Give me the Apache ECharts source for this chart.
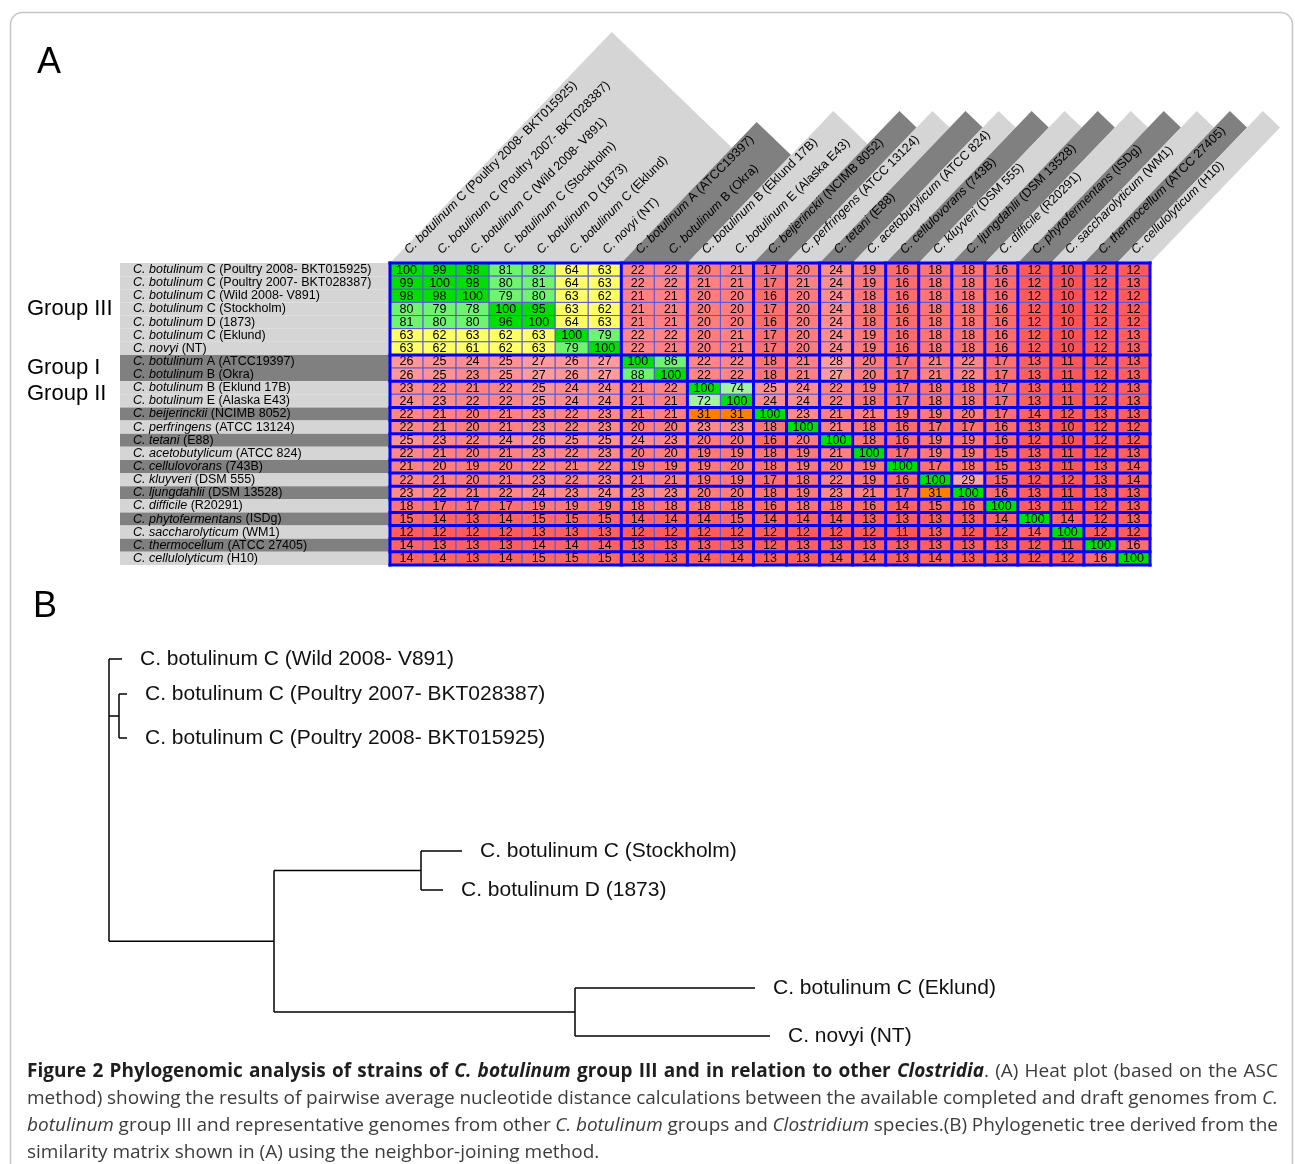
<!DOCTYPE html>
<html><head><meta charset="utf-8">
<script src="https://cdn.jsdelivr.net/npm/echarts@6/dist/echarts.min.js"></script>
<style>html,body{margin:0;padding:0;background:#fff}#c{width:1295px;height:1164px}</style>
</head><body><div id="c"></div>
<script>
// ---------- DATA ----------
const rowSpecies = ['C. botulinum','C. botulinum','C. botulinum','C. botulinum','C. botulinum','C. botulinum','C. novyi',
  'C. botulinum','C. botulinum','C. botulinum','C. botulinum','C. beijerinckii','C. perfringens','C. tetani',
  'C. acetobutylicum','C. cellulovorans','C. kluyveri','C. ljungdahlii','C. difficile','C. phytofermentans',
  'C. saccharolyticum','C. thermocellum','C. cellulolyticum'];
const rowStrains = ['C (Poultry 2008- BKT015925)','C (Poultry 2007- BKT028387)','C (Wild 2008- V891)','C (Stockholm)',
  'D (1873)','C (Eklund)','(NT)','A (ATCC19397)','B (Okra)','B (Eklund 17B)','E (Alaska E43)','(NCIMB 8052)',
  '(ATCC 13124)','(E88)','(ATCC 824)','(743B)','(DSM 555)','(DSM 13528)','(R20291)','(ISDg)','(WM1)',
  '(ATCC 27405)','(H10)'];
const categories = rowSpecies.map((s, i) => s + ' ' + rowStrains[i]);

const similarity = [
  [100,99,98,81,82,64,63,22,22,20,21,17,20,24,19,16,18,18,16,12,10,12,12],
  [99,100,98,80,81,64,63,22,22,21,21,17,21,24,19,16,18,18,16,12,10,12,13],
  [98,98,100,79,80,63,62,21,21,20,20,16,20,24,18,16,18,18,16,12,10,12,12],
  [80,79,78,100,95,63,62,21,21,20,20,17,20,24,18,16,18,18,16,12,10,12,12],
  [81,80,80,96,100,64,63,21,21,20,20,16,20,24,18,16,18,18,16,12,10,12,12],
  [63,62,63,62,63,100,79,22,22,20,21,17,20,24,19,16,18,18,16,12,10,12,13],
  [63,62,61,62,63,79,100,22,21,20,21,17,20,24,19,16,18,18,16,12,10,12,13],
  [26,25,24,25,27,26,27,100,86,22,22,18,21,28,20,17,21,22,17,13,11,12,13],
  [26,25,23,25,27,26,27,88,100,22,22,18,21,27,20,17,21,22,17,13,11,12,13],
  [23,22,21,22,25,24,24,21,22,100,74,25,24,22,19,17,18,18,17,13,11,12,13],
  [24,23,22,22,25,24,24,21,21,72,100,24,24,22,18,17,18,18,17,13,11,12,13],
  [22,21,20,21,23,22,23,21,21,31,31,100,23,21,21,19,19,20,17,14,12,13,13],
  [22,21,20,21,23,22,23,20,20,23,23,18,100,21,18,16,17,17,16,13,10,12,12],
  [25,23,22,24,26,25,25,24,23,20,20,16,20,100,18,16,19,19,16,12,10,12,12],
  [22,21,20,21,23,22,23,20,20,19,19,18,19,21,100,17,19,19,15,13,11,12,13],
  [21,20,19,20,22,21,22,19,19,19,20,18,19,20,19,100,17,18,15,13,11,13,14],
  [22,21,20,21,23,22,23,21,21,19,19,17,18,22,19,16,100,29,15,12,12,13,14],
  [23,22,21,22,24,23,24,23,23,20,20,18,19,23,21,17,31,100,16,13,11,13,13],
  [18,17,17,17,19,19,19,18,18,18,18,16,18,18,16,14,15,16,100,13,11,12,13],
  [15,14,13,14,15,15,15,14,14,14,15,14,14,14,13,13,13,13,14,100,14,12,13],
  [12,12,12,12,13,13,13,12,12,12,12,12,12,12,12,11,13,12,12,14,100,12,12],
  [14,13,13,13,14,14,14,13,13,13,13,12,13,13,13,13,13,13,13,12,11,100,16],
  [14,14,13,14,15,15,15,13,13,14,14,13,13,14,14,13,14,13,13,12,12,16,100]
];

// block boundaries (groups / single strains)
const blockBounds = [0,7,9,11,12,13,14,15,16,17,18,19,20,21,22,23];
const groupLabels = ['Group III','Group I','Group II'];
const groupFirstRow = [0,7,9];
const groupLastRow = [6,8,10];

// phylogenetic tree (branch lengths, leaf positions)
const tree = {len: 0, children: [
  {name: 'C. botulinum C (Wild 2008- V891)', len: 1.3, pos: 1.9},
  {len: 1.0, children: [
    {name: 'C. botulinum C (Poultry 2007- BKT028387)', len: 0.8, pos: 5.4},
    {name: 'C. botulinum C (Poultry 2008- BKT015925)', len: 0.8, pos: 9.8}
  ]},
  {len: 16.5, children: [
    {len: 14.7, children: [
      {name: 'C. botulinum C (Stockholm)', len: 4.1, pos: 21.1},
      {name: 'C. botulinum D (1873)', len: 2.2, pos: 25.0}
    ]},
    {len: 30.1, children: [
      {name: 'C. botulinum C (Eklund)', len: 18.0, pos: 34.8},
      {name: 'C. novyi (NT)', len: 19.5, pos: 39.6}
    ]}
  ]}
]};

const captionLines = [
  [['Figure 2 Phylogenomic analysis of strains of ','b'],['C. botulinum','bi'],[' group III and in relation to other ','b'],['Clostridia','bi'],['. (A) Heat plot (based on the ASC','n']],
  [['method) showing the results of pairwise average nucleotide distance calculations between the available completed and draft genomes from ','n'],['C.','i']],
  [['botulinum','i'],[' group III and representative genomes from other ','n'],['C. botulinum','i'],[' groups and ','n'],['Clostridium','i'],[' species.(B) Phylogenetic tree derived from the','n']],
  [['similarity matrix shown in (A) using the neighbor-joining method.','n']]
];

// ---------- STYLE HELPERS ----------
const LIGHT = '#d5d5d5', DARK = '#808080';
const FONT = '"Liberation Sans", Arial, sans-serif';
function cellColor(v) {
  if (v >= 95) return '#00e000';
  if (v >= 75) return '#6ef46e';
  if (v >= 70) return '#a4f4a0';
  if (v >= 60) return '#ffff66';
  if (v >= 30) return '#ff8000';
  const g = Math.round(82 + (v - 10) * 4.3);
  return 'rgb(255,' + g + ',' + g + ')';
}
function blockOf(i) { for (let k = 0; k < blockBounds.length - 1; k++) if (i >= blockBounds[k] && i < blockBounds[k+1]) return k; return 0; }
function shade(k) { return k % 2 === 0 ? LIGHT : DARK; }
const headerHeight = k => (k === 0 ? 231 : (k === 1 ? 141 : 152));
const bandSlope = 0.96; // horizontal run per vertical rise of the header bands

// ---------- DERIVED DATA ----------
const cells = [];
similarity.forEach((row, y) => row.forEach((v, x) => cells.push([x, y, v])));
const blocks = [];
for (let k = 0; k < blockBounds.length - 1; k++) blocks.push([blockBounds[k], blockBounds[k+1] - 1, k]);

// tree layout
const segs = [], leaves = [], leafNames = [];
function layout(node, px) {
  const x = px + node.len;
  if (!node.children) { leaves.push([x, node.pos]); leafNames.push(node.name); node._y = node.pos; }
  else {
    const ys = node.children.map(ch => layout(ch, x));
    node._y = ys.reduce((a, b) => a + b, 0) / ys.length;
    segs.push([x, Math.min(...ys), x, Math.max(...ys)]);
  }
  if (node.len > 0) segs.push([px, node._y, x, node._y]);
  return node._y;
}
layout(tree, 0);

// ---------- CAPTION (justified words) ----------
const cvs = document.createElement('canvas').getContext('2d');
const capSize = 19, capFam = '"Open Sans", sans-serif';
function capFont(s) {
  return (s.indexOf('i') >= 0 ? 'italic ' : '') + (s.indexOf('b') >= 0 ? 'bold ' : '') + capSize + 'px ' + capFam;
}
function tokenize(segsIn) {
  const words = []; let cur = [];
  segsIn.forEach(([t, s]) => {
    t.split(' ').forEach((p, i) => {
      if (i > 0) { if (cur.length) words.push(cur); cur = []; }
      if (p) cur.push([p, s]);
    });
  });
  if (cur.length) words.push(cur);
  return words;
}
const captionEls = [];
const capLeft = 27, capRight = 1278, capY0 = 1072, capDy = 26.7;
captionLines.forEach((line, li) => {
  const words = tokenize(line);
  const widths = words.map(w => w.reduce((a, [t, s]) => { cvs.font = capFont(s); return a + cvs.measureText(t).width; }, 0));
  const total = widths.reduce((a, b) => a + b, 0);
  cvs.font = capFont('n');
  let gap = cvs.measureText(' ').width;
  if (li < captionLines.length - 1) gap = (capRight - capLeft - total) / (words.length - 1);
  let cx = capLeft;
  words.forEach((w) => {
    w.forEach(([t, s]) => {
      cvs.font = capFont(s);
      captionEls.push({type: 'text', x: cx, y: capY0 + li * capDy, style: {text: t, font: capFont(s),
        fill: s.indexOf('b') >= 0 ? '#1e1e1e' : '#3c3c3c', verticalAlign: 'middle', align: 'left'}});
      cx += cvs.measureText(t).width;
    });
    cx += gap;
  });
});

// ---------- CHART ----------
const chart = echarts.init(document.getElementById('c'), null, {renderer: 'canvas'});
const richLabel = (i) => '{i|' + rowSpecies[i] + '} ' + rowStrains[i];
const labelRich = {i: {fontStyle: 'italic', fontSize: 12.5, fontFamily: FONT, color: '#000'}};

chart.setOption({
  animation: false,
  backgroundColor: '#fff',
  grid: [
    {left: 390, top: 263, width: 760, height: 302, containLabel: false, outerBoundsMode: 'none'},
    {left: 109, top: 640, width: 700, height: 400, containLabel: false, outerBoundsMode: 'none'}
  ],
  xAxis: [
    {type: 'category', gridIndex: 0, data: categories, position: 'top',
     axisLine: {show: false}, axisTick: {show: false}, splitLine: {show: false}, axisLabel: {show: false}},
    {type: 'value', gridIndex: 1, min: 0, max: 70, show: false}
  ],
  yAxis: [
    {type: 'category', gridIndex: 0, data: categories, inverse: true, z: 5,
     axisLine: {show: false}, axisTick: {show: false}, splitLine: {show: false},
     axisLabel: {interval: 0, align: 'left', margin: 257, fontSize: 12.5, fontFamily: FONT, color: '#000',
       formatter: (v, i) => richLabel(i), rich: labelRich}},
    {type: 'value', gridIndex: 1, min: 0, max: 40, inverse: true, show: false}
  ],
  graphic: [
    {type: 'rect', shape: {x: 10.5, y: 12.5, width: 1282, height: 1175, r: 12},
     style: {fill: 'none', stroke: '#c6c6c6', lineWidth: 1.5}, z: -10},
    {type: 'text', x: 37, y: 63, style: {text: 'A', font: '36px ' + FONT, fill: '#000', verticalAlign: 'middle'}},
    {type: 'text', x: 33, y: 607, style: {text: 'B', font: '36px ' + FONT, fill: '#000', verticalAlign: 'middle'}}
  ].concat(captionEls),
  series: [
    { // row label backgrounds
      type: 'custom', xAxisIndex: 0, yAxisIndex: 0, z: 1, clip: false, silent: true,
      data: categories.map((c, i) => [0, i]),
      renderItem: (params, api) => {
        const p = api.coord([0, api.value(1)]);
        const h = api.size([1, 1])[1];
        const left = 120;
        return {type: 'rect', shape: {x: left, y: p[1] - h / 2, width: params.coordSys.x - left, height: h},
          style: {fill: shade(blockOf(api.value(1)))}};
      }
    },
    { // column header bands with rotated labels
      type: 'custom', xAxisIndex: 0, yAxisIndex: 0, z: 1, clip: false, silent: true,
      data: blocks,
      renderItem: (params, api) => {
        const s = api.value(0), e = api.value(1), k = api.value(2);
        const hw = api.size([1, 1])[0] / 2;
        const x0 = api.coord([s, 0])[0] - hw, x1 = api.coord([e, 0])[0] + hw;
        const b = params.coordSys.y, h = headerHeight(k), w = x1 - x0;
        const h2 = h - 0.5 * w;
        const children = [{type: 'polygon',
          shape: {points: [[x0, b], [x0 + bandSlope * h, b - h], [x1 + bandSlope * h2, b - h2], [x1, b]]},
          style: {fill: shade(k)}}];
        for (let i = s; i <= e; i++) {
          const cx = api.coord([i, 0])[0];
          children.push({type: 'text', x: cx, y: b - 11, rotation: Math.PI / 4,
            style: {text: richLabel(i), rich: labelRich, fontSize: 12.5, fontFamily: FONT, fill: '#000',
              align: 'left', verticalAlign: 'middle'}});
        }
        return {type: 'group', children: children};
      }
    },
    { // heatmap cells
      type: 'custom', xAxisIndex: 0, yAxisIndex: 0, z: 2, silent: true,
      data: cells,
      renderItem: (params, api) => {
        const v = api.value(2);
        const p = api.coord([api.value(0), api.value(1)]);
        const sz = api.size([1, 1]);
        return {type: 'group', children: [
          {type: 'rect', shape: {x: p[0] - sz[0] / 2, y: p[1] - sz[1] / 2, width: sz[0], height: sz[1]},
            style: {fill: cellColor(v), stroke: '#5858dc', lineWidth: 1}},
          {type: 'text', style: {text: String(v), x: p[0], y: p[1] + 0.5, align: 'center', verticalAlign: 'middle',
            font: '12.5px ' + FONT, fill: '#000'}}
        ]};
      }
    },
    { // thick block borders
      type: 'custom', xAxisIndex: 0, yAxisIndex: 0, z: 3, clip: false, silent: true,
      data: blockBounds.map(b => [b]),
      renderItem: (params, api) => {
        const cs = params.coordSys, b = api.value(0);
        const cw = cs.width / categories.length, ch = cs.height / categories.length;
        const xv = cs.x + b * cw, yh = cs.y + b * ch;
        const st = {stroke: '#0000ff', lineWidth: 3};
        return {type: 'group', children: [
          {type: 'line', shape: {x1: xv, y1: cs.y - 1.5, x2: xv, y2: cs.y + cs.height + 1.5}, style: st},
          {type: 'line', shape: {x1: cs.x - 1.5, y1: yh, x2: cs.x + cs.width + 1.5, y2: yh}, style: st}
        ]};
      }
    },
    { // group labels
      type: 'custom', xAxisIndex: 0, yAxisIndex: 0, z: 4, clip: false, silent: true,
      data: groupLabels.map((g, i) => [groupFirstRow[i], groupLastRow[i]]),
      renderItem: (params, api) => {
        const y = (api.coord([0, api.value(0)])[1] + api.coord([0, api.value(1)])[1]) / 2;
        return {type: 'text', style: {text: groupLabels[params.dataIndex], x: 27, y: y, align: 'left',
          verticalAlign: 'middle', font: '22px ' + FONT, fill: '#000'}};
      }
    },
    { // tree branches
      type: 'custom', xAxisIndex: 1, yAxisIndex: 1, clip: false, silent: true,
      data: segs, encode: {x: [0, 2], y: [1, 3]},
      renderItem: (params, api) => {
        const p1 = api.coord([api.value(0), api.value(1)]);
        const p2 = api.coord([api.value(2), api.value(3)]);
        return {type: 'line', shape: {x1: p1[0], y1: p1[1], x2: p2[0], y2: p2[1]},
          style: {stroke: '#000', lineWidth: 1.5}};
      }
    },
    { // tree leaf labels
      type: 'custom', xAxisIndex: 1, yAxisIndex: 1, clip: false, silent: true,
      data: leaves,
      renderItem: (params, api) => {
        const p = api.coord([api.value(0), api.value(1)]);
        return {type: 'text', style: {text: leafNames[params.dataIndex], x: p[0] + 18, y: p[1], align: 'left',
          verticalAlign: 'middle', font: '21px ' + FONT, fill: '#111'}};
      }
    }
  ]
});
</script></body></html>
